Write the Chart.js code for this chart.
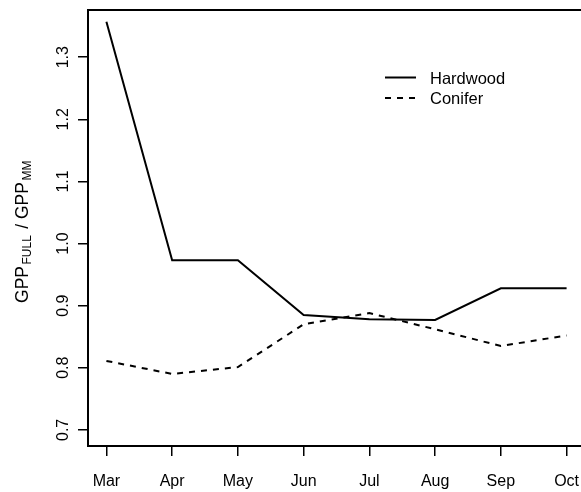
<!DOCTYPE html>
<html>
<head>
<meta charset="utf-8">
<script src="https://cdn.jsdelivr.net/npm/chart.js@4/dist/chart.umd.min.js"></script>
<style>
  html, body { margin: 0; padding: 0; background: #fff; overflow: hidden; }
  canvas { display: block; }
</style>
</head>
<body>
<canvas id="c" width="590" height="492"></canvas>
<script>
// Monthly GPP ratio (full model / MM model) by forest type
const months = ['Mar', 'Apr', 'May', 'Jun', 'Jul', 'Aug', 'Sep', 'Oct'];
const hardwood = [1.357, 0.973, 0.973, 0.885, 0.878, 0.877, 0.928, 0.928];
const conifer = [0.811, 0.790, 0.801, 0.870, 0.888, 0.862, 0.835, 0.852];
const yTicks = [0.7, 0.8, 0.9, 1.0, 1.1, 1.2, 1.3];
const seriesNames = ['Hardwood', 'Conifer'];

const FONT = '"Liberation Sans", Arial, sans-serif';

function toPoints(vals) {
  return vals.map((v, i) => ({ x: i + 1, y: v }));
}

// Frame, rotated y labels, x labels, axis title and legend
const decorations = {
  id: 'decorations',
  afterDraw(chart) {
    const ctx = chart.ctx;
    const a = chart.chartArea;
    const xs = chart.scales.x, ys = chart.scales.y;
    ctx.save();
    ctx.strokeStyle = '#000';
    ctx.lineWidth = 2;
    ctx.strokeRect(a.left, a.top, a.right - a.left, a.bottom - a.top);

    ctx.fillStyle = '#000';
    ctx.font = '16px ' + FONT;
    // y tick labels, reading bottom to top
    ys.ticks.forEach(t => {
      const y = ys.getPixelForValue(t.value);
      ctx.save();
      ctx.translate(68, y);
      ctx.rotate(-Math.PI / 2);
      ctx.textAlign = 'center';
      ctx.textBaseline = 'alphabetic';
      ctx.fillText(t.value.toFixed(1), 0, 0);
      ctx.restore();
    });
    // x tick labels
    ctx.textAlign = 'center';
    ctx.textBaseline = 'alphabetic';
    xs.ticks.forEach(t => {
      const x = xs.getPixelForValue(t.value);
      ctx.fillText(months[t.value - 1], x, 486);
    });

    // y axis title with subscripts
    const parts = [
      { s: 'GPP', size: 17.5, dy: 0 },
      { s: 'FULL', size: 12, dy: 3 },
      { s: ' / GPP', size: 17.5, dy: 0 },
      { s: 'MM', size: 12, dy: 3 }
    ];
    let total = 0;
    parts.forEach(p => { ctx.font = p.size + 'px ' + FONT; p.w = ctx.measureText(p.s).width + 1.5; total += p.w; });
    const cy = (a.top + a.bottom) / 2 + 3;
    ctx.save();
    ctx.translate(27.5, cy);
    ctx.rotate(-Math.PI / 2);
    ctx.textAlign = 'left';
    let px = -total / 2;
    parts.forEach(p => {
      ctx.font = p.size + 'px ' + FONT;
      ctx.fillText(p.s, px, p.dy);
      px += p.w;
    });
    ctx.restore();

    // legend
    ctx.font = '16.5px ' + FONT;
    ctx.textAlign = 'left';
    ctx.textBaseline = 'middle';
    chart.data.datasets.forEach((ds, i) => {
      const y = 77.5 + i * 20.5;
      ctx.save();
      ctx.lineWidth = 2;
      ctx.setLineDash(ds.borderDash || []);
      ctx.beginPath();
      ctx.moveTo(385, y);
      ctx.lineTo(416, y);
      ctx.stroke();
      ctx.restore();
      ctx.fillText(ds.label, 430, y + 1.5);
    });
    ctx.restore();
  }
};

new Chart(document.getElementById('c'), {
  type: 'line',
  data: {
    datasets: [
      {
        label: seriesNames[0],
        data: toPoints(hardwood),
        borderColor: '#000',
        borderWidth: 2,
        pointRadius: 0,
        tension: 0,
        fill: false
      },
      {
        label: seriesNames[1],
        data: toPoints(conifer),
        borderColor: '#000',
        borderWidth: 2,
        borderDash: [6, 6],
        pointRadius: 0,
        tension: 0,
        fill: false
      }
    ]
  },
  options: {
    responsive: false,
    animation: false,
    devicePixelRatio: 1,
    layout: { padding: { left: 0, right: 5, top: 10, bottom: 0 } },
    plugins: { legend: { display: false }, tooltip: { enabled: false } },
    scales: {
      x: {
        type: 'linear',
        min: 0.72,
        max: 8.28,
        afterBuildTicks: s => { s.ticks = months.map((m, i) => ({ value: i + 1 })); },
        afterFit: s => { s.height = 46; },
        ticks: { display: false },
        border: { display: false },
        grid: { display: true, drawOnChartArea: false, drawTicks: true, tickLength: 10, color: '#000', lineWidth: 1.5 }
      },
      y: {
        type: 'linear',
        min: 0.674,
        max: 1.376,
        afterBuildTicks: s => { s.ticks = yTicks.map(v => ({ value: v })); },
        afterFit: s => { s.width = 88; },
        ticks: { display: false },
        border: { display: false },
        grid: { display: true, drawOnChartArea: false, drawTicks: true, tickLength: 10, color: '#000', lineWidth: 1.5 }
      }
    }
  },
  plugins: [decorations]
});
</script>
</body>
</html>
